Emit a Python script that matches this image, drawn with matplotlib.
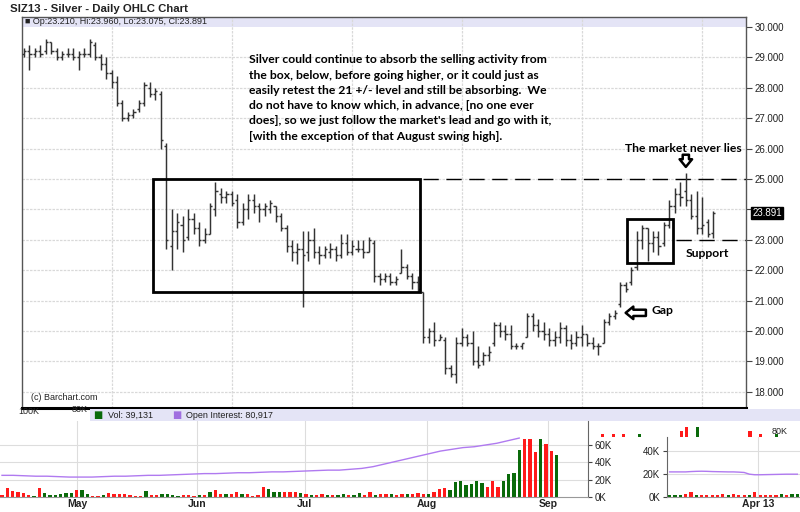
import matplotlib
matplotlib.use('Agg')
import matplotlib.pyplot as plt
import numpy as np
from matplotlib.patches import Rectangle

# ---------------- data ----------------
highs = [29.3, 29.4, 29.3, 29.4, 29.6, 29.5, 29.3, 29.2, 29.3, 29.3,
         29.2, 29.3, 29.6, 29.5, 29.1, 29.0, 28.6, 28.4, 27.6, 27.2,
         27.3, 27.6, 28.2, 28.2, 28.0, 27.9, 26.2, 24.0, 23.9, 23.8,
         24.0, 23.9, 23.6, 23.4, 24.2, 24.9, 24.7, 24.6, 24.6, 24.5,
         24.2, 24.5, 24.5, 24.2, 24.2, 24.3, 24.1, 23.9, 23.5, 23.0,
         22.9, 23.3, 23.3, 23.4, 22.8, 22.8, 22.9, 22.8, 23.2, 23.2,
         23.0, 23.0, 23.0, 23.1, 23.0, 21.9, 21.9, 21.9, 21.8, 22.7,
         22.2, 21.9, 21.8, 21.3, 20.1, 20.3, 19.9, 19.8, 18.9, 19.8,
         20.1, 19.9, 20.0, 19.5, 19.3, 19.5, 20.3, 20.3, 20.2, 20.2,
         19.6, 19.6, 20.6, 20.6, 20.4, 20.3, 20.1, 20.0, 20.3, 20.2,
         19.9, 20.0, 20.2, 19.9, 19.8, 19.6, 20.4, 20.6, 20.7, 21.6,
         21.6, 22.1, 23.3, 23.5, 23.4, 23.3, 23.3, 23.6, 24.3, 24.7,
         24.9, 25.2, 24.5, 24.6, 24.4, 23.7, 23.96]
lows = [29.0, 28.6, 29.0, 29.0, 29.1, 29.1, 28.9, 28.9, 29.0, 28.9,
        28.6, 29.0, 29.0, 28.9, 28.6, 28.3, 28.0, 27.4, 26.9, 26.9,
        27.0, 27.2, 27.4, 27.7, 27.6, 26.0, 22.7, 22.0, 22.7, 22.6,
        23.0, 23.2, 22.8, 22.9, 23.2, 23.8, 24.2, 24.2, 24.1, 23.4,
        23.5, 23.7, 23.9, 23.6, 23.8, 23.9, 23.6, 23.3, 22.6, 22.3,
        22.2, 20.8, 22.3, 22.4, 22.2, 22.4, 22.4, 22.3, 22.4, 22.5,
        22.5, 22.6, 22.4, 22.6, 21.6, 21.5, 21.6, 21.5, 21.5, 21.9,
        21.7, 21.4, 21.3, 19.6, 19.6, 19.5, 19.7, 18.6, 18.5, 18.3,
        19.5, 19.5, 18.9, 18.8, 18.9, 19.0, 19.5, 19.8, 19.7, 19.4,
        19.4, 19.4, 19.8, 20.0, 19.8, 19.7, 19.5, 19.5, 19.6, 19.5,
        19.4, 19.5, 19.5, 19.5, 19.4, 19.2, 19.6, 20.2, 20.4, 20.8,
        21.3, 21.5, 22.0, 22.7, 22.3, 22.6, 22.5, 22.8, 23.4, 23.9,
        24.1, 24.1, 23.7, 23.2, 23.2, 23.1, 23.075]
opens = [29.1, 29.2, 29.1, 29.2, 29.2, 29.5, 29.2, 29.0, 29.1, 29.1,
         29.0, 29.1, 29.1, 29.4, 29.0, 28.8, 28.5, 28.2, 27.5, 27.0,
         27.1, 27.3, 27.5, 28.0, 27.8, 27.8, 26.1, 22.8, 23.3, 23.5,
         23.1, 23.7, 23.4, 23.0, 23.2, 24.0, 24.5, 24.4, 24.5, 24.3,
         23.6, 24.0, 24.3, 24.1, 24.0, 24.0, 24.1, 23.8, 23.4, 22.8,
         22.6, 22.7, 22.6, 23.0, 22.6, 22.5, 22.6, 22.7, 22.5, 22.9,
         22.6, 22.7, 22.7, 22.6, 22.9, 21.8, 21.7, 21.8, 21.6, 21.9,
         22.1, 21.8, 21.6, 21.3, 19.8, 20.0, 19.7, 19.7, 18.8, 18.6,
         19.6, 19.8, 19.6, 19.0, 19.0, 19.2, 19.6, 20.2, 20.0, 19.9,
         19.5, 19.5, 19.8, 20.5, 20.2, 20.0, 19.9, 19.7, 19.8, 20.1,
         19.7, 19.6, 19.8, 19.9, 19.6, 19.5, 19.6, 20.3, 20.5, 20.9,
         21.5, 21.6, 22.1, 23.0, 23.4, 22.9, 23.1, 22.9, 23.5, 24.1,
         24.5, 24.6, 24.3, 23.8, 23.4, 23.6, 23.21]
closes = [29.2, 29.1, 29.2, 29.1, 29.5, 29.2, 29.0, 29.1, 29.1, 29.0,
          29.1, 29.1, 29.5, 29.0, 28.8, 28.5, 28.2, 27.5, 27.0, 27.1,
          27.2, 27.5, 28.1, 27.8, 27.9, 26.3, 23.0, 23.3, 23.6, 23.0,
          23.7, 23.4, 23.0, 23.2, 24.1, 24.6, 24.4, 24.5, 24.2, 23.6,
          24.0, 24.3, 24.1, 24.0, 24.1, 24.2, 23.8, 23.4, 22.8, 22.6,
          22.7, 22.5, 23.0, 22.6, 22.5, 22.7, 22.7, 22.5, 22.9, 22.6,
          22.8, 22.7, 22.6, 23.0, 21.8, 21.7, 21.8, 21.6, 21.7, 22.1,
          21.8, 21.6, 21.4, 19.8, 20.0, 19.7, 19.8, 18.8, 18.6, 19.6,
          19.8, 19.6, 19.0, 18.9, 19.2, 19.3, 20.2, 20.0, 19.9, 19.5,
          19.5, 19.6, 20.5, 20.2, 20.0, 19.9, 19.7, 19.8, 20.1, 19.7,
          19.6, 19.8, 19.9, 19.6, 19.5, 19.5, 20.3, 20.5, 20.6, 21.5,
          21.4, 22.0, 23.0, 23.4, 22.9, 23.1, 22.8, 23.5, 24.1, 24.5,
          24.4, 24.3, 23.8, 23.4, 23.5, 23.2, 23.891]
month_starts = [16, 38, 60, 80, 102, 124]
price_ticks = [18, 19, 20, 21, 22, 23, 24, 25, 26, 27, 28, 29, 30]
last_price = 23.891

# volume panel (glitched composite strip at the bottom)
volumes = [2, 10, 7, 6, 5, 2, 1, 10, 5, 2, 2, 4, 4.6, 5, 8.5, 8.5, 4, 1, 1, 2,
           4.6, 4, 3, 3, 2, 1, 1, 7, 2, 2, 3, 3, 2, 1, 2, 2, 1, 2, 2, 6,
           7.7, 4, 3, 3, 6, 3, 3, 1, 2, 11, 9, 6, 6, 6, 6, 6, 5, 4, 2, 2,
           3, 2, 2, 2, 4, 2, 2, 4.6, 2, 5.5, 2, 3, 4, 3, 2, 3, 4, 4, 4.6, 3,
           4, 6, 9, 10, 7.7, 17, 19, 14, 15, 18, 16, 11, 19, 11, 18, 26, 28, 54, 67, 67,
           52, 67, 61, 53, 49]
vol_up = [0, 0, 0, 0, 0, 0, 1, 0, 1, 1, 1, 1, 1, 1, 0, 1, 1, 0, 0, 1,
          0, 0, 0, 0, 0, 0, 0, 1, 0, 0, 1, 1, 1, 1, 0, 0, 0, 1, 0, 1,
          0, 0, 1, 0, 0, 1, 0, 0, 0, 0, 1, 1, 1, 0, 0, 0, 1, 0, 1, 0,
          0, 1, 0, 1, 1, 0, 1, 1, 0, 0, 1, 0, 0, 1, 0, 0, 1, 0, 0, 0,
          1, 0, 0, 0, 1, 1, 1, 1, 1, 1, 1, 0, 0, 0, 1, 1, 1, 1, 0, 0,
          0, 1, 0, 0, 1]
open_interest = [25, 25, 24.5, 24, 24, 23.5, 23, 23, 23, 23.5, 24, 24, 24.5, 25, 25, 25.5,
                 26, 26.5, 27, 27, 27.5, 28, 28, 28.5, 29, 29, 29.5, 30, 30.5, 31,
                 31, 32, 33, 35, 38, 41, 44, 47, 50, 53, 55, 57, 58, 60, 62, 65, 68]
vol_months = ['May', 'Jun', 'Jul', 'Aug', 'Sep']
vol_month_pos = [14.1, 36.6, 56.8, 79.7, 102.4]

mini_vol = [2, 2, 2, 3, 4, 2, 2, 2, 2, 2, 3, 2, 3, 2, 2, 2, 4, 2, 2, 2, 2, 3, 2, 3, 3]
mini_up = [1, 1, 1, 0, 0, 1, 0, 0, 0, 0, 0, 1, 0, 0, 0, 1, 0, 0, 0, 0, 0, 1, 0, 1, 1]
mini_oi = [22, 22, 22, 22, 22.3, 22.5, 22.6, 22.5, 22.3, 22.2, 22.1, 22, 22, 21.8,
           21.5, 20, 19.5, 19.5, 19.6, 19.7, 19.8, 19.9, 20, 20, 20]

# stray fragment strip above the mini panel
strip_vol = [1, 0, 1, 0, 1, 0, 0, 1, 0, 0, 0, 0, 0, 0, 0, 2, 3, 0, 3, 0,
             0, 0, 0, 0, 0, 0, 0, 0, 2, 0, 1, 0, 0, 1, 0, 0, 0, 0]
strip_up = [0, 0, 0, 0, 0, 0, 0, 1, 0, 0, 0, 0, 0, 0, 0, 0, 0, 0, 1, 0,
            0, 0, 0, 0, 0, 0, 0, 0, 0, 0, 0, 0, 0, 1, 0, 0, 0, 0]

# ---------------- figure ----------------
W, H = 800, 512
fig = plt.figure(figsize=(8, 5.12), dpi=100)
fig.patch.set_facecolor('white')
SANS = 'Liberation Sans'
BOLDTXT = 'Lato'


def px_axes(x0, y0, x1, y1, **kw):
    return fig.add_axes([x0 / W, 1 - y1 / H, (x1 - x0) / W, (y1 - y0) / H], **kw)


# ---- price chart ----
ax = px_axes(22, 17, 746, 408)
n = len(closes)
xi = np.arange(n)
ax.set_xlim(-0.37, 132.0)
ax.set_ylim(17.47, 30.33)
ax.axhspan(30.0, 30.4, color='#E4E4F6', zorder=0, lw=0)
for p in price_ticks[:-1]:
    ax.axhline(p, color='#D9D9D9', lw=0.9, ls=(0, (2, 1)), zorder=0.5)
for m in month_starts:
    ax.axvline(m, color='#D9D9D9', lw=0.9, ls=(0, (2, 1)), zorder=0.5)

bar_col = '#333333'
tw = 0.4
ax.vlines(xi, lows, highs, color=bar_col, lw=1.05, zorder=3)
ax.hlines(opens, xi - tw, xi, color=bar_col, lw=1.05, zorder=3)
ax.hlines(closes, xi, xi + tw, color=bar_col, lw=1.05, zorder=3)

# boxes
ax.add_patch(Rectangle((23.6, 21.28), 72.4 - 23.6, 25.0 - 21.28, fill=False,
                       ec='black', lw=2.0, zorder=4))
ax.add_patch(Rectangle((110.2, 22.24), 118.6 - 110.2, 23.68 - 22.24, fill=False,
                       ec='black', lw=2.0, zorder=4))
# dashed lines
ax.plot([73.0, 132.0], [25.0, 25.0], color='black', lw=1.0, ls=(0, (11, 5.5)), zorder=2)
ax.plot([119.2, 132.0], [23.0, 23.0], color='black', lw=1.0, ls=(0, (11, 5.5)), zorder=2)

# right axis
ax.yaxis.tick_right()
ax.set_yticks(price_ticks)
ax.set_yticklabels(['' if p == 24 else '%.3f' % p for p in price_ticks],
                   fontfamily=SANS, fontsize=7, color='#222')
ax.tick_params(axis='y', direction='out', length=4, width=0.8, pad=2, colors='#444',
               labelcolor='#222')
ax.set_xticks([])
for s in ['top', 'left', 'right']:
    ax.spines[s].set_color('#555')
    ax.spines[s].set_linewidth(1.0)
ax.spines['bottom'].set_color('black')
ax.spines['bottom'].set_linewidth(2.2)

ax.text(1.0085, last_price, '%.3f' % last_price, transform=ax.get_yaxis_transform(),
        fontfamily=SANS, fontsize=7, color='white', va='center', ha='left',
        bbox=dict(boxstyle='square,pad=0.12', fc='black', ec='black'), zorder=6)

# legend strip
ax.text(0.004, 30.17, '\u25a0 Op:23.210, Hi:23.960, Lo:23.075, Cl:23.891',
        transform=ax.get_yaxis_transform(), fontfamily=SANS, fontsize=6.5,
        color='#222', va='center', ha='left')
ax.text(0.013, 17.8, '(c) Barchart.com', transform=ax.get_yaxis_transform(),
        fontfamily=SANS, fontsize=6.5, color='#222', va='center', ha='left')

# annotations
para = ("Silver could continue to absorb the selling activity from\n"
        "the box, below, before going higher, or it could just as\n"
        "easily retest the 21 +/- level and still be absorbing.  We\n"
        "do not have to know which, in advance, [no one ever\n"
        "does], so we just follow the market's lead and go with it,\n"
        "[with the exception of that August swing high].")
ax.text(41.2, 29.1, para, fontfamily=BOLDTXT, fontweight='bold', fontsize=8.7,
        va='top', ha='left', linespacing=1.47, color='black', zorder=5)
ax.text(131.2, 26.0, 'The market never lies', fontfamily=BOLDTXT, fontweight='bold',
        fontsize=8.7, va='center', ha='right', color='black', zorder=5)
ax.annotate('', xy=(121, 25.4), xytext=(121, 25.8),
            arrowprops=dict(arrowstyle='simple,head_width=0.9,head_length=0.55,tail_width=0.45',
                            fc='white', ec='black', lw=1.8, shrinkA=0, shrinkB=0), zorder=5)
ax.text(125.0, 22.55, 'Support', fontfamily=BOLDTXT, fontweight='bold', fontsize=8.7,
        va='center', ha='center', color='black', zorder=5)
ax.text(114.7, 20.68, 'Gap', fontfamily=BOLDTXT, fontweight='bold', fontsize=8.7,
        va='center', ha='left', color='black', zorder=5)
ax.annotate('', xy=(110.0, 20.6), xytext=(113.7, 20.6),
            arrowprops=dict(arrowstyle='simple,head_width=0.9,head_length=0.55,tail_width=0.45',
                            fc='white', ec='black', lw=1.8, shrinkA=0, shrinkB=0), zorder=5)

fig.text(10 / W, 1 - 9 / H, 'SIZ13 - Silver - Daily OHLC Chart', fontfamily=SANS,
         fontweight='bold', fontsize=8.2, va='center', ha='left', color='#222')

# ---- bottom strip: vol / OI header ----
hdr = px_axes(90, 409, 800, 421)
hdr.set_xlim(0, 1)
hdr.set_ylim(0, 1)
hdr.axis('off')
hdr.add_patch(Rectangle((0, 0), 1, 1, color='#E4E4F6', lw=0))
hdr.text(0.005, 0.5, '\u25a0', color='#0a6a0a', fontsize=7, va='center', ha='left')
hdr.text(0.025, 0.5, 'Vol: 39,131', fontfamily=SANS, fontsize=6.5, va='center', ha='left',
         color='#222')
hdr.text(0.115, 0.5, '\u25a0', color='#a070e0', fontsize=7, va='center', ha='left')
hdr.text(0.135, 0.5, 'Open Interest: 80,917', fontfamily=SANS, fontsize=6.5, va='center',
         ha='left', color='#222')
fig.text(18 / W, 1 - 411 / H, '100K', fontfamily=SANS, fontsize=6.5, va='center',
         ha='left', color='#222')
fig.text(72 / W, 1 - 410 / H, '80K', fontfamily=SANS, fontsize=6.5, va='center',
         ha='left', color='#222')

# ---- stray strip (fragment of another panel) ----
axs = px_axes(600, 424, 800, 437)
axs.set_xlim(-0.5, len(strip_vol) - 0.5)
axs.set_ylim(0, 4)
axs.axis('off')
scols = ['#0a6a0a' if u else '#ff1a1a' for u in strip_up]
axs.bar(np.arange(len(strip_vol)), strip_vol, width=0.6, color=scols)
axs.text(0.86, 0.45, '80K', transform=axs.transAxes, fontfamily=SANS, fontsize=6.5,
         va='center', ha='left', color='#222')

# ---- volume panel ----
axv = px_axes(0, 421, 588, 497)
nv = len(volumes)
xv = np.arange(nv)
axv.set_xlim(-0.375, 109.9)
axv.set_ylim(0, 87.7)
for g in [20, 40, 60]:
    axv.axhline(g, color='#DDDDDD', lw=0.8, zorder=0)
for m in vol_month_pos:
    axv.axvline(m, color='#DDDDDD', lw=0.8, zorder=0)
cols = ['#0a6a0a' if u else '#ff1a1a' for u in vol_up]
axv.bar(xv, volumes, width=0.62, color=cols, zorder=2)
axv.plot(np.linspace(0, 97, len(open_interest)), open_interest, color='#b07af0', lw=1.0,
         zorder=3)
axv.yaxis.tick_right()
axv.set_yticks([0, 20, 40, 60])
axv.set_yticklabels(['0K', '20K', '40K', '60K'], fontfamily=SANS, fontsize=7, color='#222')
axv.tick_params(axis='y', direction='out', length=3, pad=2, colors='#444', labelcolor='#222')
axv.set_xticks(vol_month_pos)
axv.set_xticklabels(vol_months, fontfamily=SANS, fontweight='bold', fontsize=7.5,
                    color='#222')
axv.tick_params(axis='x', length=0, pad=1.5, colors='#666', labelcolor='#222')
for s in ['top', 'left']:
    axv.spines[s].set_visible(False)
axv.spines['right'].set_color('#666')
axv.spines['bottom'].set_color('#999')

# ---- mini panel on right ----
axm = px_axes(667, 437, 800, 497)
nm = len(mini_vol)
xm = np.arange(nm)
axm.set_xlim(-0.5, 24.5)
axm.set_ylim(0, 52.6)
for g in [20, 40]:
    axm.axhline(g, color='#DDDDDD', lw=0.8, zorder=0)
axm.axvline(16.6, color='#DDDDDD', lw=0.8, zorder=0)
mcols = ['#0a6a0a' if u else '#ff1a1a' for u in mini_up]
axm.bar(xm, mini_vol, width=0.6, color=mcols, zorder=2)
axm.plot(xm, mini_oi, color='#b07af0', lw=1.0, zorder=3)
axm.set_yticks([0, 20, 40])
axm.set_yticklabels(['0K', '20K', '40K'], fontfamily=SANS, fontsize=7, color='#222')
axm.tick_params(axis='y', direction='out', length=3, pad=2, colors='#444', labelcolor='#222')
axm.set_xticks([16.6])
axm.set_xticklabels(['Apr 13'], fontfamily=SANS, fontweight='bold', fontsize=7.5, color='#222')
axm.tick_params(axis='x', length=0, pad=1.5, colors='#666', labelcolor='#222')
for s in ['top', 'right']:
    axm.spines[s].set_visible(False)
axm.spines['left'].set_color('#666')
axm.spines['bottom'].set_color('#999')

fig.savefig('out.png', dpi=100)
